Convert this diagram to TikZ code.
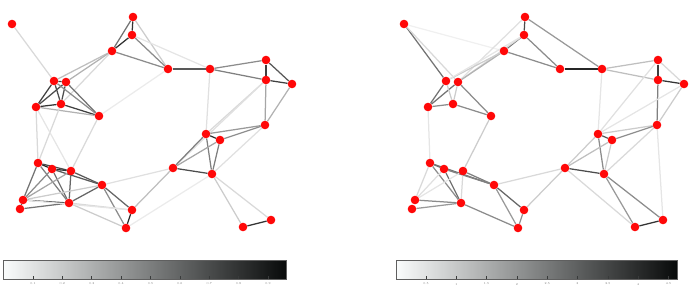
\documentclass[tikz,border=0pt]{standalone}
\usepackage{tikz}
\usetikzlibrary{backgrounds}
\definecolor{vtxred}{RGB}{255,8,8}
\definecolor{cbmid}{RGB}{112,142,140}
\definecolor{cblow}{RGB}{250,252,252}
\definecolor{cbhigh}{RGB}{8,10,10}
\definecolor{cbframe}{RGB}{95,95,95}
\definecolor{cbtext}{RGB}{120,120,120}

\tikzset{
  vertex/.style={circle,fill=vtxred,inner sep=0pt,minimum size=8.6pt},
  link/.style={draw=black!#1,line width=1.25pt},
  cbtick/.style={draw=cbhigh!80,line width=0.6pt},
  cblabel/.style={text=cbtext,font=\fontsize{3}{3}\selectfont,inner sep=0pt}
}

\newcommand{\vertexset}[1]{%
  \foreach \k/\px/\py in {1/12/24,2/133/17,3/132/35,4/112/51,5/168/69,6/210/69,
      7/266/60,8/266/80,9/292/84,10/54/81,11/66/82,12/36/107,13/61/104,14/99/116,
      15/265/125,16/206/134,17/220/140,18/173/168,19/212/174,20/38/163,21/52/169,
      22/71/171,23/102/185,24/23/200,25/20/209,26/69/203,27/132/210,28/126/228,
      29/243/227,30/271/220}{
    \node[vertex] (#1\k) at (\px,\py) {};
  }}

\begin{document}
\begin{tikzpicture}[x=1pt,y=-1pt]
\useasboundingbox (0,0) rectangle (699,306);
% left graph
\begin{scope}
\vertexset{L}
\begin{pgfonlayer}{background}
\foreach \a/\b/\s in {2/3/80,2/4/55,3/4/80,2/5/20,3/5/45,4/5/45,3/6/10,5/6/65,
    6/7/45,6/8/50,7/8/75,7/9/65,8/9/75,8/15/35,9/15/30,6/16/12,8/16/15,8/18/12,
    15/16/40,15/17/45,15/19/12,16/17/80,16/18/50,16/19/50,17/18/35,17/19/50,
    18/19/70,19/29/20,19/30/15,29/30/80,18/23/12,18/27/25,19/28/8,5/14/8,
    1/10/15,4/10/25,4/11/30,4/13/15,10/11/75,10/12/75,10/13/70,11/12/70,11/13/70,
    11/14/55,10/14/45,12/13/80,13/14/75,12/14/30,12/20/15,13/20/15,14/22/15,12/22/10,
    20/21/85,20/22/70,21/22/80,21/23/65,22/23/65,20/24/55,20/26/50,21/24/45,
    21/26/55,22/24/35,22/26/60,23/24/20,24/25/80,24/26/65,25/26/55,23/26/60,
    23/27/60,23/28/45,27/28/85,26/28/20,26/27/15,24/27/10}{
  \draw[link=\s] (L\a) -- (L\b);
}
\end{pgfonlayer}
\end{scope}
% right graph
\begin{scope}[xshift=392pt]
\vertexset{R}
\begin{pgfonlayer}{background}
\foreach \a/\b/\s in {1/10/55,1/11/15,1/4/6,2/3/70,3/4/55,2/6/40,3/5/45,4/5/45,
    5/6/85,2/11/12,3/11/15,4/11/30,4/10/20,3/10/10,6/7/25,6/8/25,7/8/75,8/9/80,
    7/9/15,8/15/50,9/15/20,6/16/10,7/16/12,9/16/10,15/16/20,15/17/45,15/30/10,
    15/19/15,16/17/65,16/19/45,17/19/20,17/18/25,16/18/20,18/19/70,18/29/15,
    19/29/40,19/30/45,29/30/80,18/23/15,18/27/20,10/12/55,11/12/55,10/13/20,
    11/13/20,12/13/45,11/14/45,13/14/45,12/20/10,14/22/20,20/21/55,20/23/55,
    21/23/50,21/26/55,20/26/45,22/26/15,20/24/15,21/24/12,22/24/10,24/26/45,
    25/26/40,26/28/45,23/27/60,23/28/40,27/28/45,22/23/50}{
  \draw[link=\s] (R\a) -- (R\b);
}
\end{pgfonlayer}
\end{scope}
% colour bars
\shade[left color=cblow,middle color=cbmid,right color=cbhigh] (3,260) rectangle (286,279);
\draw[cbframe,line width=0.8pt] (3,260) rectangle (286,279);
\foreach \v [count=\i] in {0.1,0.2,0.3,0.4,0.5,0.6,0.7,0.8,0.9}{
  \pgfmathsetmacro{\tx}{3.6+293.75*\v}
  \draw[cbtick] (\tx,279) -- (\tx,276);
  \node[cblabel] (lt\i) at (\tx,284) {\v};
}
\shade[left color=cblow,middle color=cbmid,right color=cbhigh] (396,260) rectangle (677,279);
\draw[cbframe,line width=0.8pt] (396,260) rectangle (677,279);
\foreach \v [count=\i] in {0.5,1,1.5,2,2.5,3,3.5,4,4.5}{
  \pgfmathsetmacro{\tx}{395.7+60.6*\v}
  \draw[cbtick] (\tx,279) -- (\tx,276);
  \node[cblabel] (rt\i) at (\tx,284) {\v};
}
\end{tikzpicture}
\end{document}
